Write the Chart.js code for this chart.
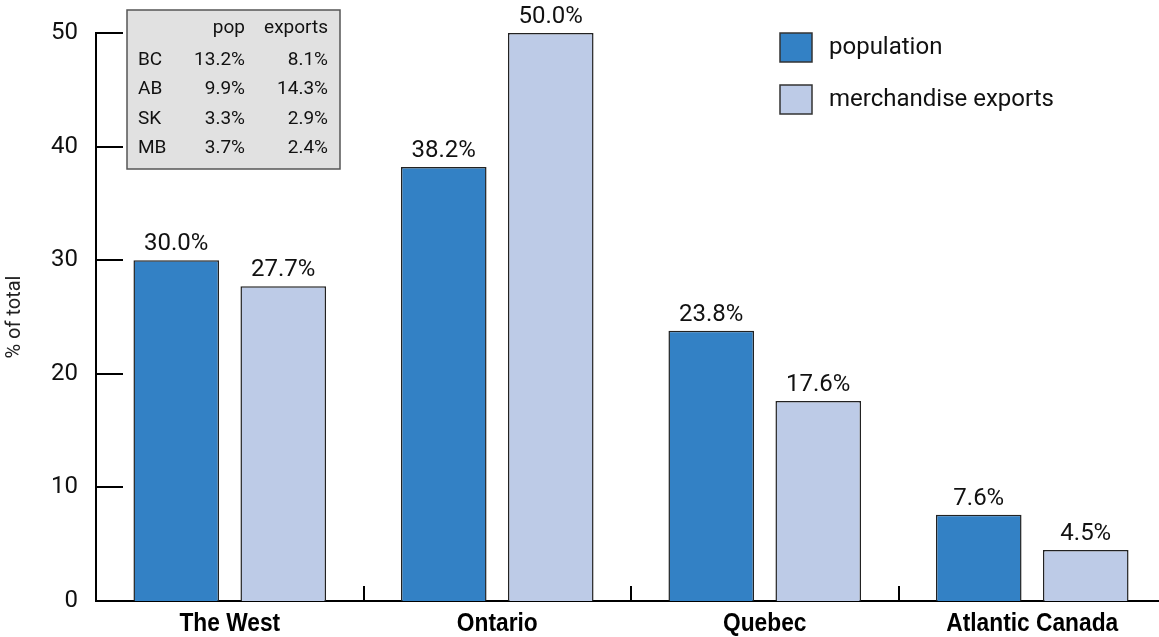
<!DOCTYPE html>
<html>
<head>
<meta charset="utf-8">
<title>Population and merchandise exports by region</title>
<script src="https://cdn.jsdelivr.net/npm/chart.js@4.4.1/dist/chart.umd.min.js"></script>
<style>
  html, body { margin: 0; padding: 0; background: #fff; overflow: hidden; }
  #wrap { width: 1180px; height: 637px; }
</style>
</head>
<body>
<div id="wrap"><canvas id="regionChart" width="1180" height="637"></canvas></div>
<script>
// Share of national total, by region
const regions = ['The West', 'Ontario', 'Quebec', 'Atlantic Canada'];
const population = [30.0, 38.2, 23.8, 7.6];
const merchExports = [27.7, 50.0, 17.6, 4.5];
const yTicks = [0, 10, 20, 30, 40, 50];

// Breakdown of the western provinces (inset table)
const tableHeader = ['pop', 'exports'];
const westProvinces = ['BC', 'AB', 'SK', 'MB'];
const westPop = [13.2, 9.9, 3.3, 3.7];
const westExports = [8.1, 14.3, 2.9, 2.4];

const POP_COLOR = '#3381c5';
const EXP_COLOR = '#bdcbe7';
const BAR_EDGE = '#222';
const FONT = 'Roboto, "Liberation Sans", sans-serif';
const BOLD_FONT = '"Liberation Sans", Arial, sans-serif';

const pct = v => v.toFixed(1) + '%';

// Tick marks point into the plot: y ticks to the right, category dividers upward
const innerTicks = {
  id: 'innerTicks',
  afterDraw(chart) {
    const { ctx, chartArea, scales } = chart;
    ctx.save();
    ctx.strokeStyle = '#000';
    ctx.lineWidth = 2;
    ctx.beginPath();
    yTicks.forEach(v => {
      const y = Math.round(scales.y.getPixelForValue(v));
      ctx.moveTo(chartArea.left, y);
      ctx.lineTo(chartArea.left + 27, y);
    });
    for (let i = 0; i < regions.length - 1; i++) {
      const x = Math.round(scales.x.getPixelForValue(i + 0.5));
      ctx.moveTo(x, chartArea.bottom);
      ctx.lineTo(x, chartArea.bottom - 15);
    }
    ctx.stroke();
    ctx.restore();
  }
};

// Condensed bold region names under the axis
const regionLabels = {
  id: 'regionLabels',
  afterDraw(chart) {
    const { ctx, scales } = chart;
    ctx.save();
    ctx.font = 'bold 25px ' + BOLD_FONT;
    ctx.fillStyle = '#000';
    ctx.textAlign = 'center';
    ctx.textBaseline = 'alphabetic';
    regions.forEach((name, i) => {
      const x = scales.x.getPixelForValue(i);
      ctx.save();
      ctx.translate(x, 631);
      ctx.scale(0.91, 1);
      ctx.fillText(name, 0, 0);
      ctx.restore();
    });
    ctx.restore();
  }
};

// Value above every bar
const barValues = {
  id: 'barValues',
  afterDatasetsDraw(chart) {
    const { ctx } = chart;
    ctx.save();
    ctx.font = '24px ' + FONT;
    ctx.fillStyle = '#111';
    ctx.textAlign = 'center';
    ctx.textBaseline = 'alphabetic';
    chart.data.datasets.forEach((ds, di) => {
      chart.getDatasetMeta(di).data.forEach((bar, i) => {
        ctx.fillText(pct(ds.data[i]), bar.x, bar.y - 10);
      });
    });
    ctx.restore();
  }
};

// Legend in the upper right
const boxLegend = {
  id: 'boxLegend',
  afterDraw(chart) {
    const { ctx } = chart;
    ctx.save();
    ctx.font = '24px ' + FONT;
    ctx.textAlign = 'left';
    ctx.textBaseline = 'middle';
    chart.data.datasets.forEach((ds, i) => {
      const top = 33 + i * 52;
      ctx.fillStyle = ds.backgroundColor;
      ctx.fillRect(780, top, 32, 29);
      ctx.strokeStyle = '#333';
      ctx.lineWidth = 1.5;
      ctx.strokeRect(780, top, 32, 29);
      ctx.fillStyle = '#111';
      ctx.fillText(ds.label, 829, top + 15);
    });
    ctx.restore();
  }
};

// Inset table with provincial shares
const westTable = {
  id: 'westTable',
  afterDraw(chart) {
    const { ctx } = chart;
    ctx.save();
    ctx.fillStyle = '#e1e1e1';
    ctx.fillRect(127, 10, 213, 159);
    ctx.strokeStyle = '#555';
    ctx.lineWidth = 1.5;
    ctx.strokeRect(127, 10, 213, 159);
    ctx.font = '19px ' + FONT;
    ctx.fillStyle = '#111';
    ctx.textBaseline = 'middle';
    ctx.textAlign = 'right';
    ctx.fillText(tableHeader[0], 245, 28);
    ctx.fillText(tableHeader[1], 328, 28);
    westProvinces.forEach((p, i) => {
      const y = 60 + i * 29.4;
      ctx.textAlign = 'left';
      ctx.fillText(p, 138, y);
      ctx.textAlign = 'right';
      ctx.fillText(pct(westPop[i]), 245, y);
      ctx.fillText(pct(westExports[i]), 328, y);
    });
    ctx.restore();
  }
};

new Chart(document.getElementById('regionChart'), {
  type: 'bar',
  data: {
    labels: regions,
    datasets: [
      {
        label: 'population',
        data: population,
        backgroundColor: POP_COLOR,
        borderColor: BAR_EDGE,
        borderWidth: 1.5
      },
      {
        label: 'merchandise exports',
        data: merchExports,
        backgroundColor: EXP_COLOR,
        borderColor: BAR_EDGE,
        borderWidth: 1.5
      }
    ]
  },
  options: {
    responsive: false,
    animation: false,
    devicePixelRatio: 1,
    layout: { padding: { top: 33, right: 14, left: 0, bottom: 0 } },
    datasets: { bar: { categoryPercentage: 0.8, barPercentage: 0.8 } },
    plugins: {
      legend: { display: false },
      tooltip: { enabled: false }
    },
    scales: {
      x: {
        grid: { display: false, drawTicks: false },
        border: { display: true, color: '#000', width: 2 },
        ticks: { display: false },
        afterFit(scale) { scale.height = 36; }
      },
      y: {
        min: 0,
        max: 50,
        grid: { display: false, drawTicks: false },
        border: { display: true, color: '#000', width: 2 },
        ticks: {
          stepSize: 10,
          color: '#111',
          padding: 18,
          font: { family: FONT, size: 24 }
        },
        title: {
          display: true,
          text: '% of total',
          color: '#222',
          padding: { top: 3, bottom: 0 },
          font: { family: FONT, size: 20 }
        },
        afterFit(scale) { scale.width = 96; }
      }
    }
  },
  plugins: [innerTicks, regionLabels, barValues, boxLegend, westTable]
});
</script>
</body>
</html>
